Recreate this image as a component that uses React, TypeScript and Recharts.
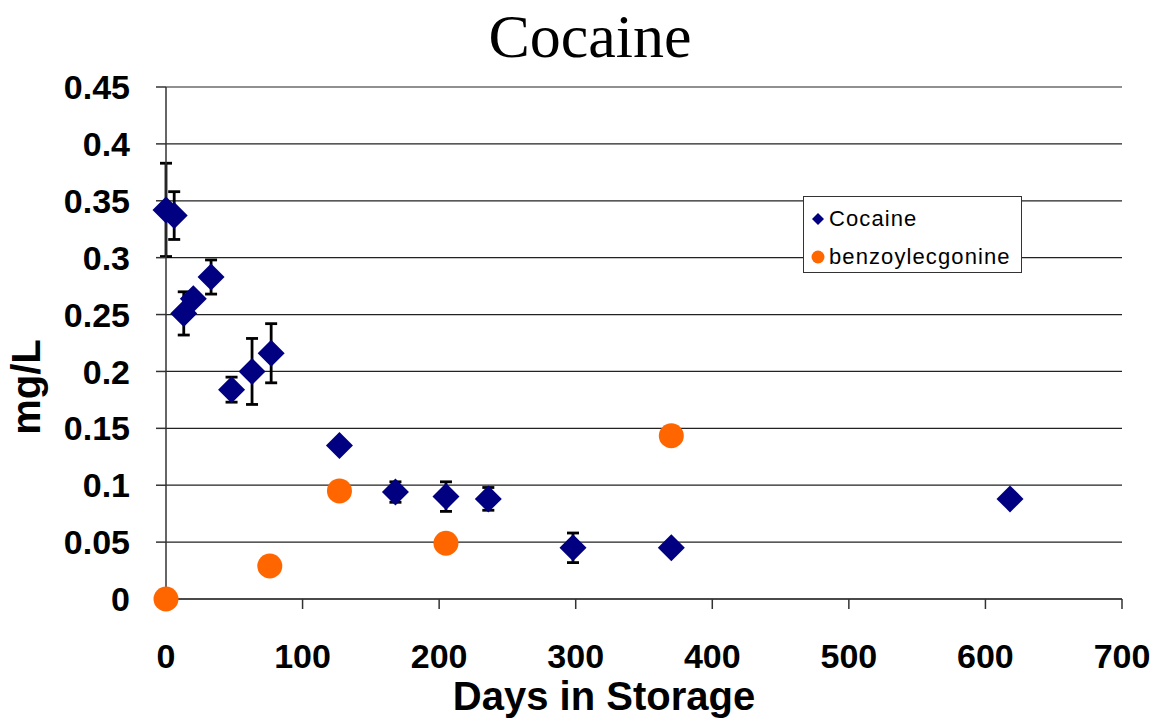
import {
    CartesianGrid,
    ErrorBar,
    Legend,
    Scatter,
    ScatterChart,
    XAxis,
    YAxis,
} from "recharts";

// cocaine measurements (days in storage, mg/L, +/- error)
const cocaineDays = [0, 6, 13, 20, 33, 48, 63, 77, 127, 168, 205, 236, 298, 370, 618];
const cocaineConc = [0.342, 0.337, 0.251, 0.264, 0.283, 0.184, 0.2, 0.216, 0.135, 0.094, 0.09, 0.088, 0.045, 0.045, 0.088];
const cocaineErr = [0.041, 0.021, 0.019, 0.005, 0.015, 0.011, 0.029, 0.026, 0, 0.009, 0.013, 0.01, 0.013, 0, 0];

// benzoylecgonine measurements
const bzeDays = [0, 76, 127, 205, 370];
const bzeConc = [0, 0.029, 0.095, 0.049, 0.1435];

const xTicks = [0, 100, 200, 300, 400, 500, 600, 700];
const yTicks = [0, 0.05, 0.1, 0.15, 0.2, 0.25, 0.3, 0.35, 0.4, 0.45];

const cocaineData = cocaineDays.map((d, i) => ({
    day: d,
    conc: cocaineConc[i],
    err: cocaineErr[i],
}));
const bzeData = bzeDays.map((d, i) => ({ day: d, conc: bzeConc[i] }));

const NAVY = "#000080";
const ORANGE = "#FF6600";
const SANS = "Arial, 'Liberation Sans', sans-serif";

const Diamond = (props: any) => {
    const { cx, cy } = props;
    const r = 13.5;
    return (
        <polygon
            points={`${cx},${cy - r} ${cx + r},${cy} ${cx},${cy + r} ${cx - r},${cy}`}
            fill={NAVY}
        />
    );
};

const Dot = (props: any) => <circle cx={props.cx} cy={props.cy} r={12.5} fill={ORANGE} />;

const LegendBox = () => (
    <div
        style={{
            border: "1.5px solid #333",
            background: "#fff",
            width: 219,
            height: 77,
            boxSizing: "border-box",
            fontFamily: SANS,
            fontSize: 22,
            letterSpacing: 1.1,
            color: "#000",
            padding: "3px 0 0 7px",
        }}
    >
        <div style={{ display: "flex", alignItems: "center", height: 38 }}>
            <svg width={14} height={14}>
                <polygon points="7,1 13,7 7,13 1,7" fill={NAVY} />
            </svg>
            <span style={{ marginLeft: 4 }}>Cocaine</span>
        </div>
        <div style={{ display: "flex", alignItems: "center", height: 38 }}>
            <svg width={14} height={14}>
                <circle cx={7} cy={7} r={6.5} fill={ORANGE} />
            </svg>
            <span style={{ marginLeft: 4 }}>benzoylecgonine</span>
        </div>
    </div>
);

export default function App() {
    return (
        <div style={{ position: "absolute", left: 0, top: 0, background: "#fff" }}>
            <ScatterChart
                width={1157}
                height={719}
                margin={{ top: 87, right: 35, left: 36, bottom: 20 }}
            >
                <CartesianGrid
                    horizontal
                    vertical={false}
                    stroke="#222"
                    strokeWidth={1.2}
                />
                <XAxis
                    type="number"
                    dataKey="day"
                    domain={[0, 700]}
                    ticks={xTicks}
                    height={100}
                    tickSize={10}
                    tickMargin={35}
                    stroke="#333"
                    strokeWidth={1.5}
                    tick={{ fill: "#000", fontSize: 34, fontWeight: "bold", fontFamily: SANS }}
                />
                <YAxis
                    type="number"
                    dataKey="conc"
                    domain={[0, 0.45]}
                    ticks={yTicks}
                    width={130}
                    tickSize={10}
                    tickMargin={26}
                    stroke="#333"
                    strokeWidth={1.5}
                    tick={{ fill: "#000", fontSize: 34, fontWeight: "bold", fontFamily: SANS }}
                />
                <Scatter
                    name="Cocaine"
                    data={cocaineData}
                    shape={Diamond}
                    isAnimationActive={false}
                >
                    <ErrorBar
                        dataKey="err"
                        direction="y"
                        width={6}
                        stroke="#000"
                        strokeWidth={2.8}
                    />
                </Scatter>
                <Scatter
                    name="benzoylecgonine"
                    data={bzeData}
                    shape={Dot}
                    isAnimationActive={false}
                />
                <Legend
                    layout="horizontal"
                    verticalAlign="middle"
                    content={<LegendBox />}
                    wrapperStyle={{ left: 803, top: 196, width: 219, height: 77 }}
                />
                <text
                    x={590}
                    y={57}
                    textAnchor="middle"
                    fontSize={62}
                    fontFamily="'Times New Roman', 'Liberation Serif', serif"
                    fill="#000"
                >
                    Cocaine
                </text>
                <text
                    x={604}
                    y={710}
                    textAnchor="middle"
                    fontSize={40}
                    fontWeight="bold"
                    fontFamily={SANS}
                    fill="#000"
                >
                    Days in Storage
                </text>
                <text
                    x={40}
                    y={387}
                    transform="rotate(-90 40 387)"
                    textAnchor="middle"
                    fontSize={40}
                    fontWeight="bold"
                    fontFamily={SANS}
                    fill="#000"
                >
                    mg/L
                </text>
            </ScatterChart>
        </div>
    );
}
